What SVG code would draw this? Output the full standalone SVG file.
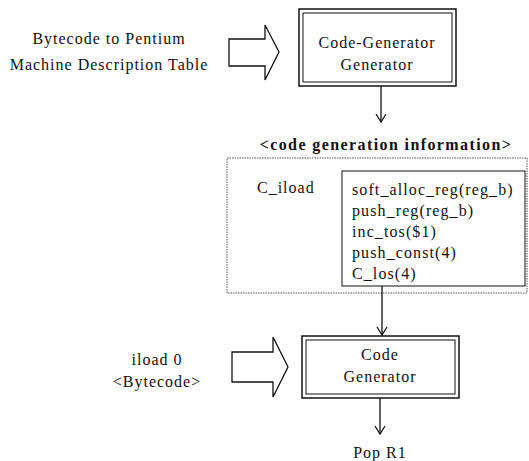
<svg xmlns="http://www.w3.org/2000/svg" width="529" height="461" viewBox="0 0 529 461">
<defs>
<style>
text{font-family:"Liberation Serif","Times New Roman",serif;font-size:16px;fill:#111;letter-spacing:1px}
.c{text-anchor:middle}
.b{font-weight:bold;letter-spacing:1.4px}
.code{letter-spacing:1.1px}
.box{fill:#fff;stroke:#111;stroke-width:1.5}
.inner{fill:none;stroke:#111;stroke-width:1}
.blk{fill:#fff;stroke:#111;stroke-width:1.3}
.ln{fill:none;stroke:#111;stroke-width:1.3}
.dot{fill:none;stroke:#555;stroke-width:1;stroke-dasharray:1.5 1}
</style>
<marker id="v" viewBox="0 0 12 12" refX="11" refY="6" markerWidth="12" markerHeight="12" markerUnits="userSpaceOnUse" orient="auto">
<path d="M3,1 L11,6 L3,11" fill="none" stroke="#111" stroke-width="1.3"/>
</marker>
</defs>
<g id="label-table">
<text class="c" x="109" y="44">Bytecode to Pentium</text>
<text class="c" x="109" y="70">Machine Description Table</text>
</g>
<g id="input-arrow-1">
<path class="blk" d="M229,39 H265 V25 L279,52 L265,80 V66 H229 Z"/>
</g>
<g id="cgg">
<rect class="box" x="299" y="9" width="157" height="77"/>
<rect class="inner" x="303" y="13" width="149" height="69"/>
<text class="c" x="377" y="48">Code-Generator</text>
<text class="c" x="377" y="70">Generator</text>
</g>
<g id="info-title">
<text class="c b" x="386" y="150">&lt;code generation information&gt;</text>
</g>
<g id="info">
<rect class="dot" x="227" y="158" width="300" height="135"/>
<text x="257" y="193">C_iload</text>
<rect class="inner" x="342" y="171" width="183" height="115"/>
<text class="code" x="352" y="195">soft_alloc_reg(reg_b)</text>
<text class="code" x="352" y="216">push_reg(reg_b)</text>
<text class="code" x="352" y="237">inc_tos($1)</text>
<text class="code" x="352" y="258">push_const(4)</text>
<text class="code" x="352" y="279">C_los(4)</text>
</g>
<g id="label-bytecode">
<text class="c" x="157" y="365">iload 0</text>
<text class="c" x="157" y="387">&lt;Bytecode&gt;</text>
</g>
<g id="input-arrow-2">
<path class="blk" d="M232,352 H273 V337 L288,367 L273,397 V382 H232 Z"/>
</g>
<g id="cg">
<rect class="box" x="302" y="336" width="157" height="62"/>
<rect class="inner" x="306" y="340" width="149" height="54"/>
<text class="c" x="380" y="360">Code</text>
<text class="c" x="380" y="382">Generator</text>
</g>
<g id="output">
<text class="c" x="380" y="458">Pop R1</text>
</g>
<g id="connectors">
<line class="ln" x1="381" y1="86" x2="381" y2="122" marker-end="url(#v)"/>
<line class="ln" x1="382" y1="286" x2="382" y2="335" marker-end="url(#v)"/>
<line class="ln" x1="380" y1="398" x2="380" y2="434" marker-end="url(#v)"/>
</g>
</svg>
